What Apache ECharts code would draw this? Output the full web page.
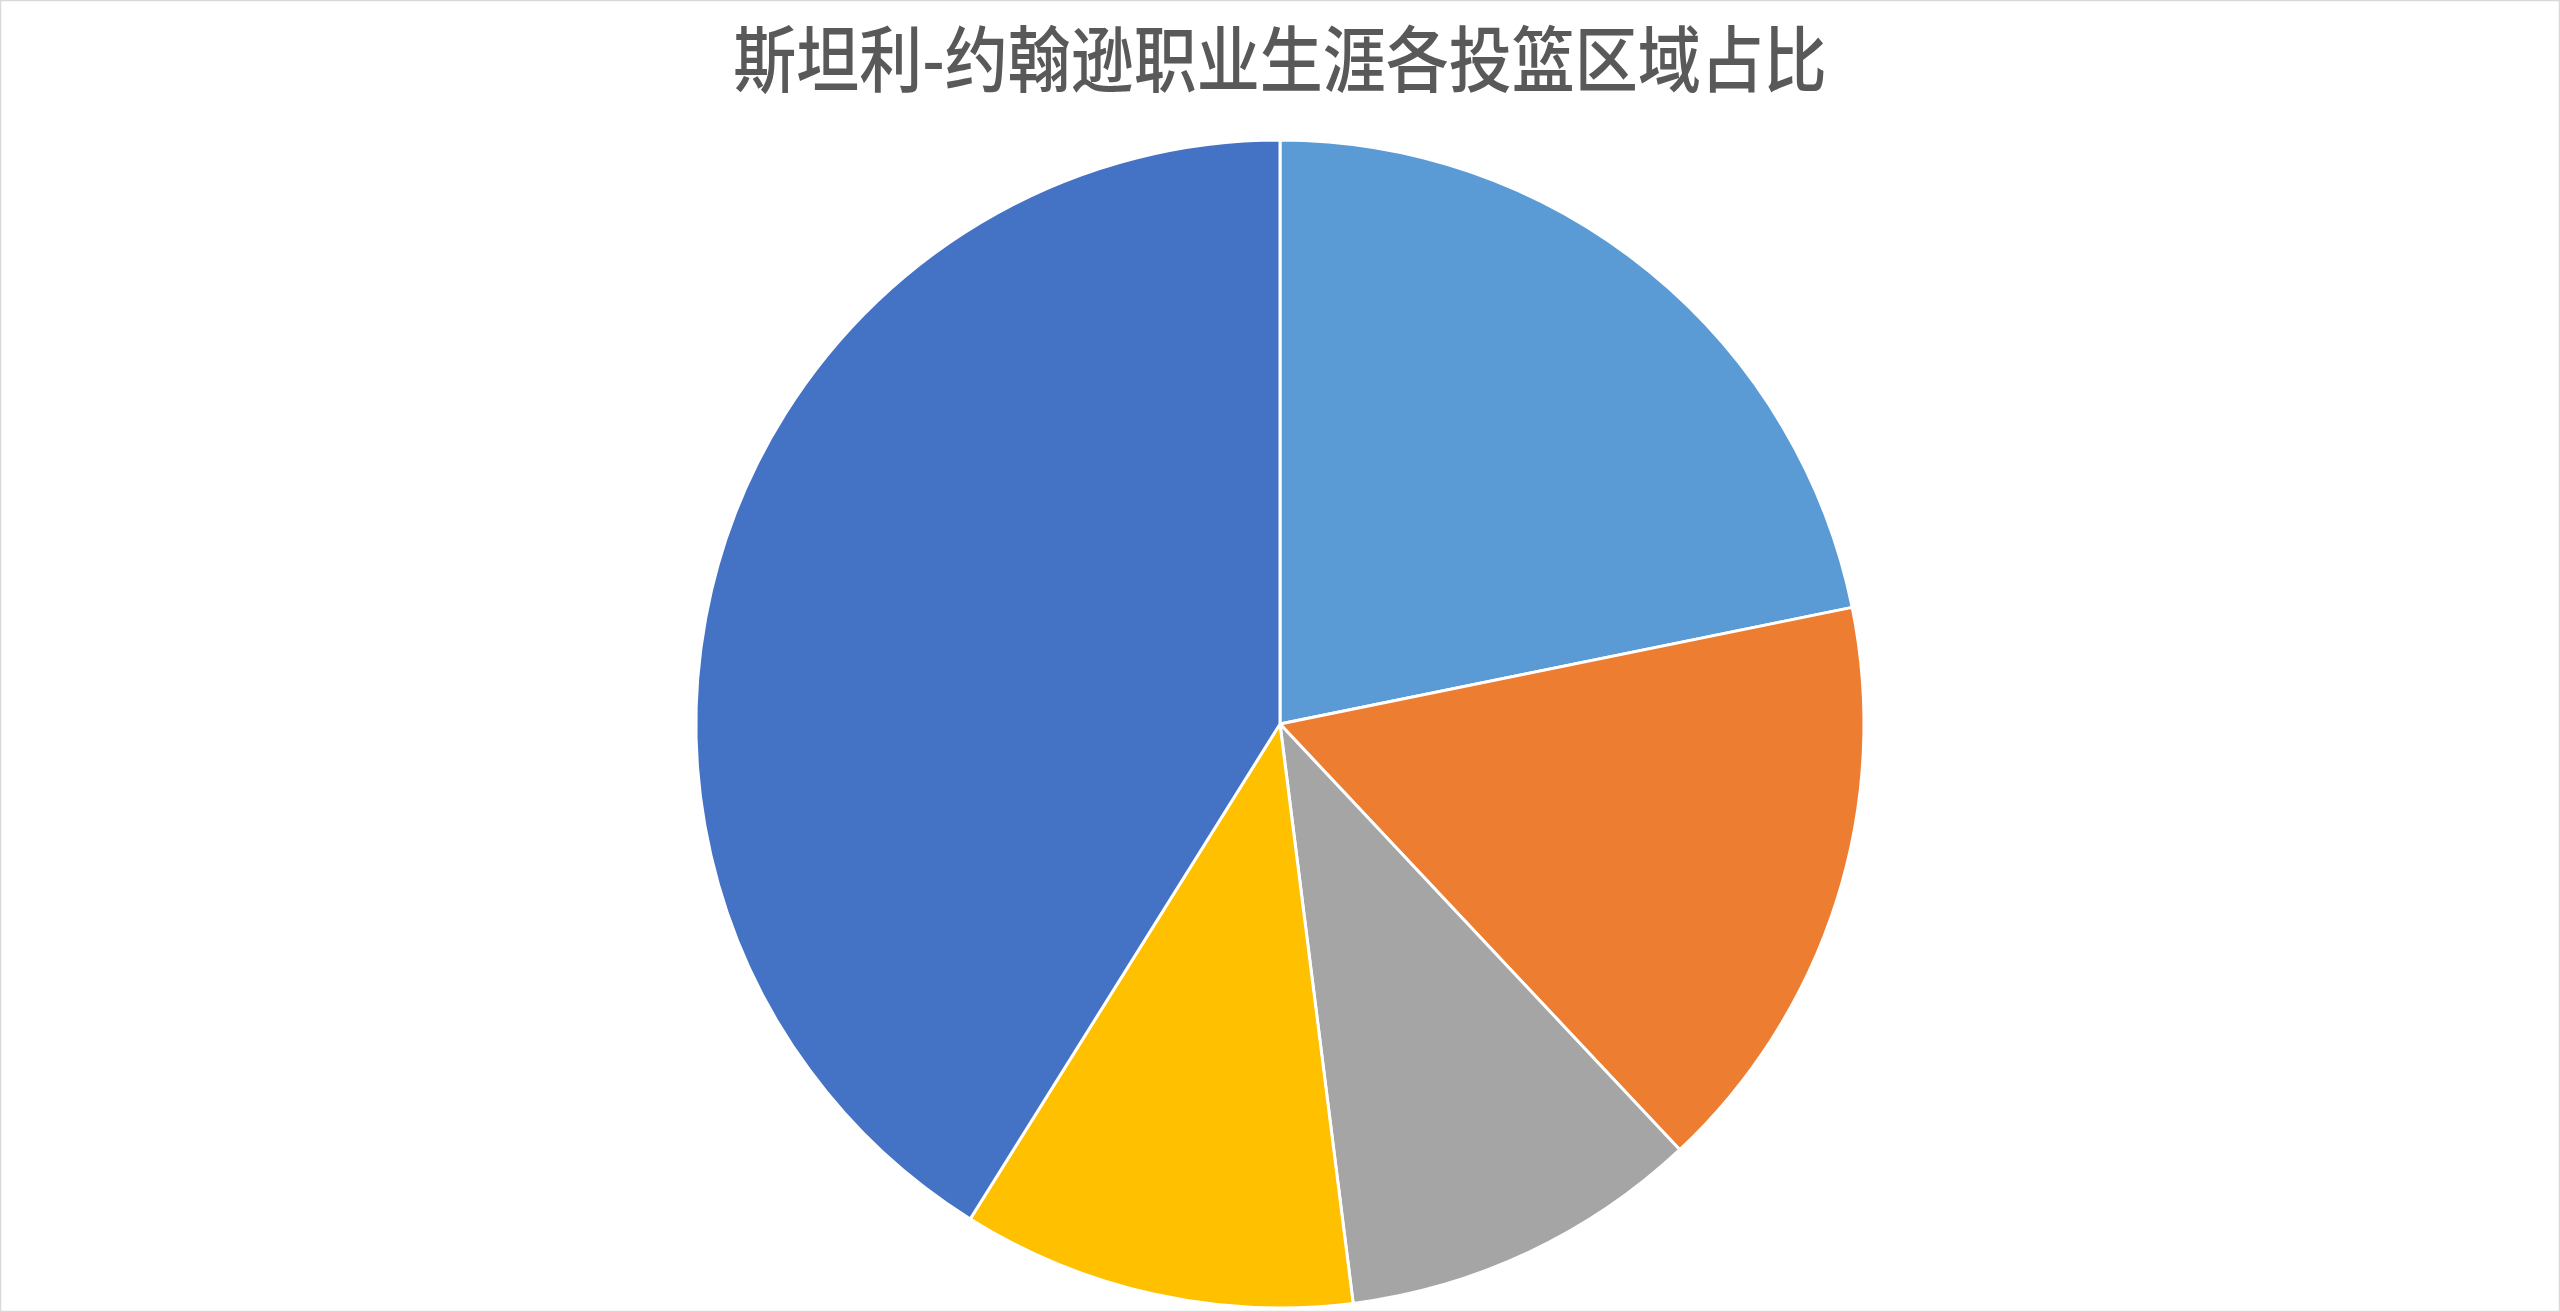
<!DOCTYPE html>
<html>
<head>
<meta charset="utf-8">
<title>斯坦利-约翰逊职业生涯各投篮区域占比</title>
<script src="https://cdn.jsdelivr.net/npm/echarts@6/dist/echarts.min.js"></script>
<style>
    html, body { margin: 0; padding: 0; background: #ffffff; }
    #chart { width: 2560px; height: 1312px; }
</style>
</head>
<body>
<div id="chart"></div>
<script>
// 投篮区域及占比(%)
var zones = ['0-3英尺', '3-10英尺', '10-16英尺', '16英尺-三分线', '三分'];
var shares = [21.8, 16.2, 10.0, 10.9, 41.1];
var colors = ['#5B9BD5', '#ED7D31', '#A5A5A5', '#FFC000', '#4472C4'];

var chartDom = document.getElementById('chart');
var myChart = echarts.init(chartDom);

var pieData = [];
zones.forEach(function (name, i) {
    pieData.push({
        value: shares[i],
        name: name,
        itemStyle: { color: colors[i] }
    });
});

var option = {
    backgroundColor: '#ffffff',
    animation: false,
    graphic: [
        {
            type: 'rect',
            shape: { x: 0.5, y: 0.5, width: 2559, height: 1311 },
            style: { fill: 'none', stroke: '#D9D9D9', lineWidth: 1.5 },
            silent: true
        },
        {
            // 标题字形偏窄偏高,用 scaleX 压一下
            type: 'text',
            x: 1280,
            y: 59,
            scaleX: 0.875,
            style: {
                text: '斯坦利-约翰逊职业生涯各投篮区域占比',
                fontFamily: 'Noto Sans CJK SC',
                fontSize: 72,
                fontWeight: 500,
                fill: '#595959',
                align: 'center',
                verticalAlign: 'middle'
            }
        }
    ],
    tooltip: {
        trigger: 'item',
        formatter: '{b}: {c}%'
    },
    series: [
        {
            name: '投篮区域占比',
            type: 'pie',
            center: [1280, 724],
            radius: 584,
            startAngle: 90,
            clockwise: true,
            label: { show: false },
            labelLine: { show: false },
            itemStyle: {
                borderColor: '#ffffff',
                borderWidth: 3
            },
            emphasis: { scale: false },
            data: pieData
        }
    ]
};
myChart.setOption(option);

window.addEventListener('resize', function () {
    myChart.resize();
});
</script>
</body>
</html>
